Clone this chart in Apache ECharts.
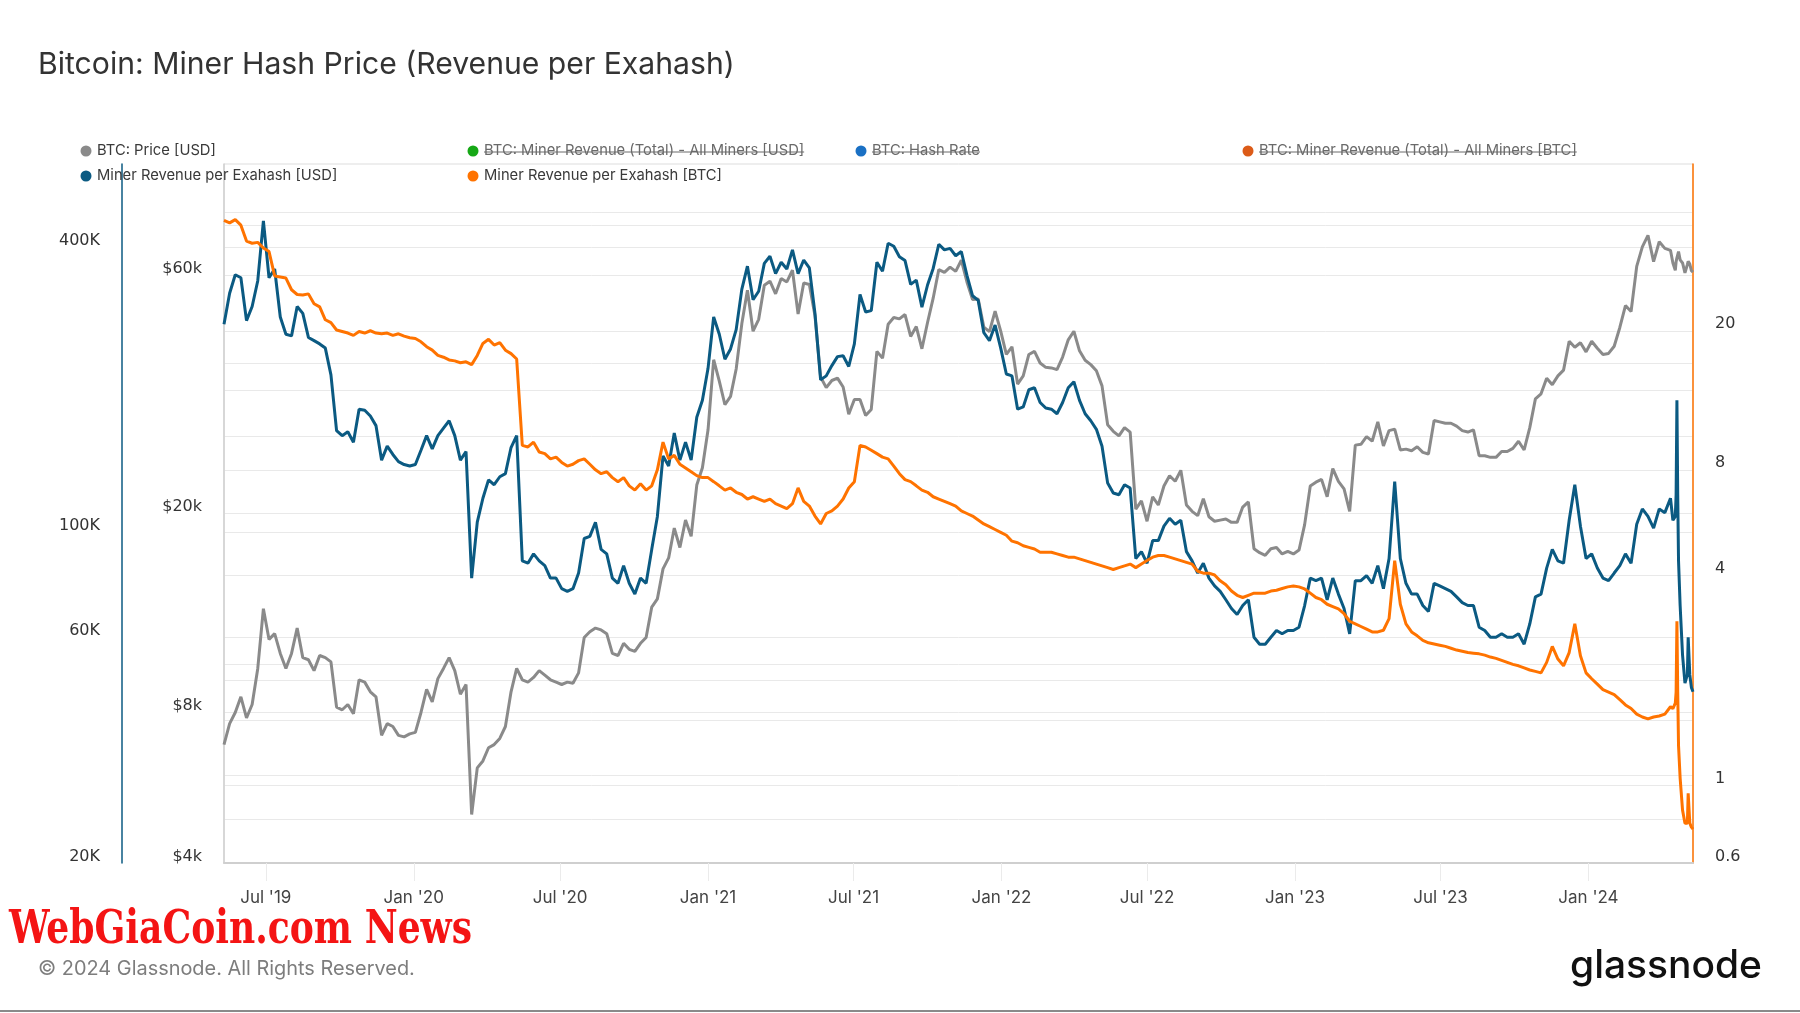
<!DOCTYPE html>
<html><head><meta charset="utf-8">
<script src="https://cdn.jsdelivr.net/npm/echarts@6/dist/echarts.min.js"></script>
<style>html,body{margin:0;padding:0;background:#fff;}#chart{width:1800px;height:1013px;}</style>
</head><body><div id="chart"></div>
<script>
// ---------- DATA ----------
// weekly samples starting 2019-05-10 (258 Fridays up to 2024-04-12), then the daily-ish tail around the halving
const WEEKLY_START = '2019-05-10';
const WEEKLY_COUNT = 258;
const TAIL_DATES = ['2024-04-15','2024-04-18','2024-04-19','2024-04-20','2024-04-21','2024-04-22','2024-04-24','2024-04-27','2024-04-30','2024-05-03','2024-05-04','2024-05-06','2024-05-08','2024-05-10'];

// BTC: Price [USD], in thousands
const PRICE_USD_K = [
  6.9,7.6,8.0,8.6,7.8,8.3,9.8,12.9,11.2,11.5,10.5,9.8,10.5,11.8,10.3,10.2,9.7,10.4,10.3,10.1,8.2,8.1,8.3,7.95,9.3,9.2,8.8,8.6,7.2,7.6,7.5,7.2,7.15,7.25,
  7.3,8.0,8.9,8.4,9.35,9.8,10.3,9.7,8.7,9.1,5.0,6.2,6.4,6.8,6.9,7.1,7.5,8.8,9.8,9.3,9.2,9.4,9.7,9.5,9.3,9.2,9.1,9.2,9.15,9.6,11.3,11.6,11.8,11.7,11.5,10.5,10.4,11.0,10.7,10.6,11.0,11.3,13.0,13.5,15.5,16.3,18.7,17.1,19.4,18.0,22.8,24.7,
  29.4,40.6,36.8,33.0,34.3,38.9,47.9,55.9,46.3,48.9,57.2,58.3,55.0,59.0,58.1,61.3,50.1,57.8,57.4,49.7,37.5,35.7,36.9,37.3,35.8,31.6,33.8,33.8,31.4,32.3,42.2,40.9,47.8,49.3,49.0,50.0,45.2,47.3,42.7,48.2,53.9,61.5,60.7,62.2,61.0,64.2,58.1,53.6,53.7,47.2,46.2,50.8,46.3,
  41.6,43.1,36.3,37.7,41.6,42.2,40.0,39.2,39.1,38.8,41.1,44.5,46.3,42.3,40.5,39.7,38.6,36.0,30.1,29.2,28.6,29.7,29.1,20.4,21.2,19.3,21.6,20.8,22.7,23.8,23.2,24.4,20.8,20.2,19.8,21.4,19.7,19.3,19.4,19.5,19.2,19.2,20.6,21.1,17.0,16.7,16.5,17.0,17.1,16.6,16.8,16.6,
  16.9,19.0,22.7,23.1,23.4,21.6,24.6,23.2,22.4,20.2,27.4,27.5,28.5,27.9,30.5,27.3,29.3,29.5,26.8,26.9,26.7,27.2,26.5,26.3,30.7,30.5,30.3,30.3,29.9,29.3,29.1,29.4,26.1,26.1,25.9,25.9,26.6,26.6,27.0,27.9,26.8,29.7,33.9,34.7,37.3,36.2,37.7,38.7,44.2,43.0,43.9,42.1,
  44.2,42.8,41.6,41.8,43.2,47.1,52.1,50.7,62.4,68.3,72.0,63.8,69.9,67.8,67.2,
  63.4,61.3,63.8,64.9,64.9,66.8,64.3,63.4,60.6,62.9,63.9,63.1,61.2,60.8
];

// Miner Revenue per Exahash [USD], in thousands
const REV_PER_EH_USD_K = [
  275,320,350,345,280,300,340,455,345,360,285,262,260,300,290,258,254,250,245,215,164,160,163,155,182,181,176,168,142,152,146,141,139,138,
  139,149,160,150,160,166,172,160,142,148,80,105,118,129,126,131,133,151,160,87,86,90,87,85,80,80,76,75,76,82,97,98,105,92,90,80,78,85,78,74,80,78,92,108,145,138,162,142,155,142,175,190,
  222,285,262,232,244,268,326,365,310,323,370,383,352,372,360,395,352,376,362,290,210,214,225,235,236,224,250,318,292,294,372,356,408,402,382,375,334,341,299,333,361,406,395,398,384,392,349,316,309,264,254,274,245,
  216,214,182,184,200,202,188,183,182,178,188,202,208,190,178,172,165,152,127,121,120,126,124,88,91,86,96,96,103,107,104,106,91,87,82,86,80,77,75,72,69,67,70,72,60,58,58,60,62,61,62,62,
  63,70,80,79,80,72,80,74,69,61,79,79,81,78,85,76,88,128,88,78,74,74,70,68,78,77,76,75,73,71,70,70,63,62,60,60,61,60,60,61,58,64,73,74,84,92,87,86,106,126,103,88,
  90,84,80,79,82,85,90,86,104,112,108,102,112,110,118,
  106,108,120,190,120,87,70,55,48,50,60,50,47,46
];

// Miner Revenue per Exahash [BTC]
const REV_PER_EH_BTC = [
  41.4,40.7,41.6,40.1,36.1,35.6,35.8,34.5,33.7,28.7,28.5,28.3,26.2,25.4,25.3,25.5,23.9,23.4,21.5,21.1,20.1,19.9,19.7,19.4,19.9,19.7,20.0,19.7,19.6,19.7,19.4,19.6,19.3,19.1,
  19.0,18.6,18.0,17.6,17.0,16.8,16.5,16.4,16.2,16.3,16.0,17.0,18.4,18.9,18.2,18.5,17.6,17.2,16.6,9.4,9.3,9.6,9.0,8.9,8.6,8.7,8.4,8.2,8.3,8.5,8.6,8.3,8.0,7.8,7.9,7.6,7.4,7.6,7.2,7.0,7.3,7.0,7.2,8.0,9.6,8.6,8.8,8.3,8.1,7.9,7.7,7.6,
  7.6,7.4,7.2,7.0,7.1,6.9,6.8,6.6,6.7,6.6,6.5,6.6,6.4,6.3,6.2,6.4,7.1,6.5,6.3,5.9,5.6,6.0,6.1,6.3,6.6,7.1,7.4,9.4,9.3,9.1,8.9,8.7,8.6,8.2,7.8,7.5,7.4,7.2,7.0,6.9,6.7,6.6,6.5,6.4,6.3,6.1,6.0,5.9,5.75,5.6,5.5,5.4,5.3,
  5.2,5.0,4.95,4.85,4.8,4.75,4.65,4.65,4.65,4.6,4.55,4.5,4.5,4.45,4.4,4.35,4.3,4.25,4.2,4.15,4.2,4.25,4.3,4.2,4.3,4.4,4.5,4.55,4.55,4.5,4.45,4.4,4.35,4.3,4.1,4.05,4.05,4.0,3.85,3.75,3.6,3.5,3.45,3.5,3.55,3.55,3.55,3.6,3.62,3.66,3.7,3.72,
  3.7,3.65,3.55,3.45,3.4,3.3,3.25,3.2,3.1,2.95,2.9,2.85,2.8,2.75,2.75,2.78,3.0,4.4,3.3,2.9,2.75,2.68,2.6,2.56,2.54,2.52,2.5,2.47,2.44,2.42,2.4,2.39,2.38,2.36,2.33,2.31,2.28,2.25,2.22,2.2,2.17,2.14,2.12,2.1,2.25,2.5,2.3,2.2,2.4,2.9,2.35,2.1,
  2.02,1.95,1.88,1.85,1.82,1.76,1.70,1.66,1.60,1.57,1.55,1.57,1.58,1.60,1.68,
  1.66,1.72,1.85,2.95,1.85,1.3,1.05,0.85,0.78,0.78,0.95,0.78,0.76,0.75
];

// axis ticks / labels
const X_MIN_DATE = '2019-05-10';
const X_MAX_DATE = '2024-05-10';
const X_TICK_DATES = ['2019-07-01','2020-01-01','2020-07-01','2021-01-01','2021-07-01','2022-01-01','2022-07-01','2023-01-01','2023-07-01','2024-01-01'];
const X_TICK_LABELS = ["Jul '19","Jan '20","Jul '20","Jan '21","Jul '21","Jan '22","Jul '22","Jan '23","Jul '23","Jan '24"];

const USD_EH_RANGE = [20000, 600000];
const USD_EH_LABEL_VALUES = [20000, 60000, 100000, 400000];
const USD_EH_LABELS = ['20K', '60K', '100K', '400K'];
const USD_EH_GRID_VALUES = [40000, 60000, 100000, 200000, 400000];

const PRICE_RANGE = [4000, 100000];
const PRICE_LABEL_VALUES = [4000, 8000, 20000, 60000];
const PRICE_LABELS = ['$4k', '$8k', '$20k', '$60k'];
const PRICE_GRID_VALUES = [6000, 8000, 10000, 20000, 40000, 60000, 80000];

const BTC_EH_RANGE = [0.6, 60];
const BTC_EH_LABEL_VALUES = [0.6, 1, 4, 8, 20];
const BTC_EH_LABELS = ['0.6', '1', '4', '8', '20'];
const BTC_EH_GRID_VALUES = [0.8, 1, 2, 4, 8, 10, 20, 40];

const LEGEND_ITEMS = [
  { name: 'BTC: Price [USD]', color: '#8a8a8a', active: true },
  { name: 'BTC: Miner Revenue (Total) - All Miners [USD]', color: '#16a816', active: false },
  { name: 'BTC: Hash Rate', color: '#1a70c4', active: false },
  { name: 'BTC: Miner Revenue (Total) - All Miners [BTC]', color: '#dc5b18', active: false },
  { name: 'Miner Revenue per Exahash [USD]', color: '#0b5a82', active: true },
  { name: 'Miner Revenue per Exahash [BTC]', color: '#ff7300', active: true }
];

const TITLE = 'Bitcoin: Miner Hash Price (Revenue per Exahash)';
const WATERMARK = 'WebGiaCoin.com News';
const COPYRIGHT = '\u00A9 2024 Glassnode. All Rights Reserved.';
const LOGO = 'glassnode';

// ---------- BUILD ----------
const DAY = 86400000;
const toTs = d => Date.parse(d + 'T00:00:00Z');
const DATES = [];
for (let i = 0; i < WEEKLY_COUNT; i++) DATES.push(toTs(WEEKLY_START) + i * 7 * DAY);
TAIL_DATES.forEach(d => DATES.push(toTs(d)));

const lg = v => Math.log10(v);
const pairs = (vals, mult) => DATES.map((t, i) => [t, vals[i] != null ? lg(vals[i] * mult) : null]);

const X_TICKS = X_TICK_DATES.map(toTs);
function nearestLabel(v, vals, labels, tol) {
  let best = -1, bd = Infinity;
  vals.forEach((x, i) => { const d = Math.abs(x - v); if (d < bd) { bd = d; best = i; } });
  return (best >= 0 && bd <= tol) ? labels[best] : '';
}

const ctx = document.createElement('canvas').getContext('2d');
function measure(text, weight, size, family) { ctx.font = weight + ' ' + size + 'px ' + family; return ctx.measureText(text).width; }

const AXIS_FONT = '"DejaVu Sans"';
function yAxisDef(range, labelVals, labels, gridVals, pos, offset, lineColor) {
  const lv = labelVals.map(lg);
  return {
    type: 'value', position: pos, offset: offset,
    min: lg(range[0]), max: lg(range[1]),
    axisLine: { show: true, onZero: false, lineStyle: { color: lineColor, width: 1.5 } },
    axisTick: { show: false, customValues: gridVals.map(lg) },
    splitLine: { show: true, lineStyle: { color: '#e9e9e9', width: 1 } },
    axisLabel: {
      customValues: lv, margin: 22, fontSize: 16, lineHeight: 13, color: '#333', fontFamily: AXIS_FONT,
      verticalAlign: 'bottom',
      formatter: v => nearestLabel(v, lv, labels, 1e-4)
    }
  };
}

const chart = echarts.init(document.getElementById('chart'), null, { renderer: 'canvas' });

// ----- graphics: title, legend, footer -----
const graphics = [];
const INTER = 'Inter';
const titleSize = 28 * 697 / measure(TITLE, 400, 28, INTER);
graphics.push({ type: 'text', x: 38, y: 65, style: { text: TITLE, fontSize: titleSize, fontFamily: INTER, fill: '#333', verticalAlign: 'middle', textVerticalAlign: 'middle' } });

const LEG_COLS = [86, 473, 861, 1248];
const LEG_ROWS = [151, 176];
const legSize = 15 * 119 / measure(LEGEND_ITEMS[0].name, 400, 15, INTER);
LEGEND_ITEMS.forEach((it, i) => {
  const cx = LEG_COLS[i % 4], cy = LEG_ROWS[Math.floor(i / 4)];
  const tx = cx + 11;
  graphics.push({ type: 'circle', shape: { cx: cx, cy: cy, r: 5.5 }, style: { fill: it.color }, z: 100 });
  graphics.push({ type: 'text', x: tx, y: cy, z: 100, style: { text: it.name, fontSize: legSize, fontFamily: INTER, fill: it.active ? '#3a3a3a' : '#6a6a6a', verticalAlign: 'middle', textVerticalAlign: 'middle' } });
  if (!it.active) {
    const w = measure(it.name, 400, legSize, INTER);
    graphics.push({ type: 'line', z: 101, shape: { x1: tx, y1: cy + 1, x2: tx + w, y2: cy + 1 }, style: { stroke: '#6a6a6a', lineWidth: 1 } });
  }
});

const WM_FAMILY = '"DejaVu Serif Condensed", "DejaVu Serif"';
const wmW = measure(WATERMARK, 'bold', 46, WM_FAMILY);
graphics.push({ type: 'text', x: 9, y: 931, scaleX: 463 / wmW, style: { text: WATERMARK, fontSize: 46, fontWeight: 'bold', fontFamily: WM_FAMILY, fill: '#f41414', verticalAlign: 'middle', textVerticalAlign: 'middle' } });

const cpSize = 20 * 377 / measure(COPYRIGHT, 400, 20, INTER);
graphics.push({ type: 'text', x: 38, y: 969, style: { text: COPYRIGHT, fontSize: cpSize, fontFamily: INTER, fill: '#7d7d7d', verticalAlign: 'middle', textVerticalAlign: 'middle' } });

const LOGO_FAMILY = 'Inter';
const logoSize = 38 * 192 / measure(LOGO, 500, 38, LOGO_FAMILY);
graphics.push({ type: 'text', x: 1570, y: 966, style: { text: LOGO, fontSize: logoSize, fontWeight: 500, fontFamily: LOGO_FAMILY, fill: '#111', verticalAlign: 'middle', textVerticalAlign: 'middle' } });

graphics.push({ type: 'line', shape: { x1: 0, y1: 1011, x2: 1800, y2: 1011 }, style: { stroke: '#8a8a8a', lineWidth: 2 } });

const option = {
  animation: false,
  backgroundColor: '#ffffff',
  grid: { left: 224, right: 107, top: 164, bottom: 150, show: true, borderColor: '#dddddd', borderWidth: 1 },
  xAxis: {
    type: 'value', min: toTs(X_MIN_DATE), max: toTs(X_MAX_DATE),
    axisLine: { show: true, onZero: false, lineStyle: { color: '#cfcfcf', width: 2 } },
    axisTick: { show: true, customValues: X_TICKS, length: 18, lineStyle: { color: '#ebebeb', width: 1 } },
    axisLabel: {
      customValues: X_TICKS, margin: 26, fontSize: 17, color: '#444', fontFamily: INTER,
      formatter: v => nearestLabel(v, X_TICKS, X_TICK_LABELS, DAY)
    },
    splitLine: { show: false }
  },
  yAxis: [
    yAxisDef(USD_EH_RANGE, USD_EH_LABEL_VALUES, USD_EH_LABELS, USD_EH_GRID_VALUES, 'left', 102, '#0b5a82'),
    yAxisDef(PRICE_RANGE, PRICE_LABEL_VALUES, PRICE_LABELS, PRICE_GRID_VALUES, 'left', 0, '#cfcfcf'),
    yAxisDef(BTC_EH_RANGE, BTC_EH_LABEL_VALUES, BTC_EH_LABELS, BTC_EH_GRID_VALUES, 'right', 0, '#ff7300')
  ],
  series: [
    { name: LEGEND_ITEMS[0].name, type: 'line', yAxisIndex: 1, data: pairs(PRICE_USD_K, 1000), showSymbol: false, lineStyle: { color: '#8a8a8a', width: 3 }, itemStyle: { color: '#8a8a8a' }, z: 2 },
    { name: LEGEND_ITEMS[4].name, type: 'line', yAxisIndex: 0, data: pairs(REV_PER_EH_USD_K, 1000), showSymbol: false, lineStyle: { color: '#0b5a82', width: 3 }, itemStyle: { color: '#0b5a82' }, z: 3 },
    { name: LEGEND_ITEMS[5].name, type: 'line', yAxisIndex: 2, data: pairs(REV_PER_EH_BTC, 1), showSymbol: false, lineStyle: { color: '#ff7300', width: 3 }, itemStyle: { color: '#ff7300' }, z: 4 }
  ],
  graphic: graphics
};
chart.setOption(option);
</script></body></html>
